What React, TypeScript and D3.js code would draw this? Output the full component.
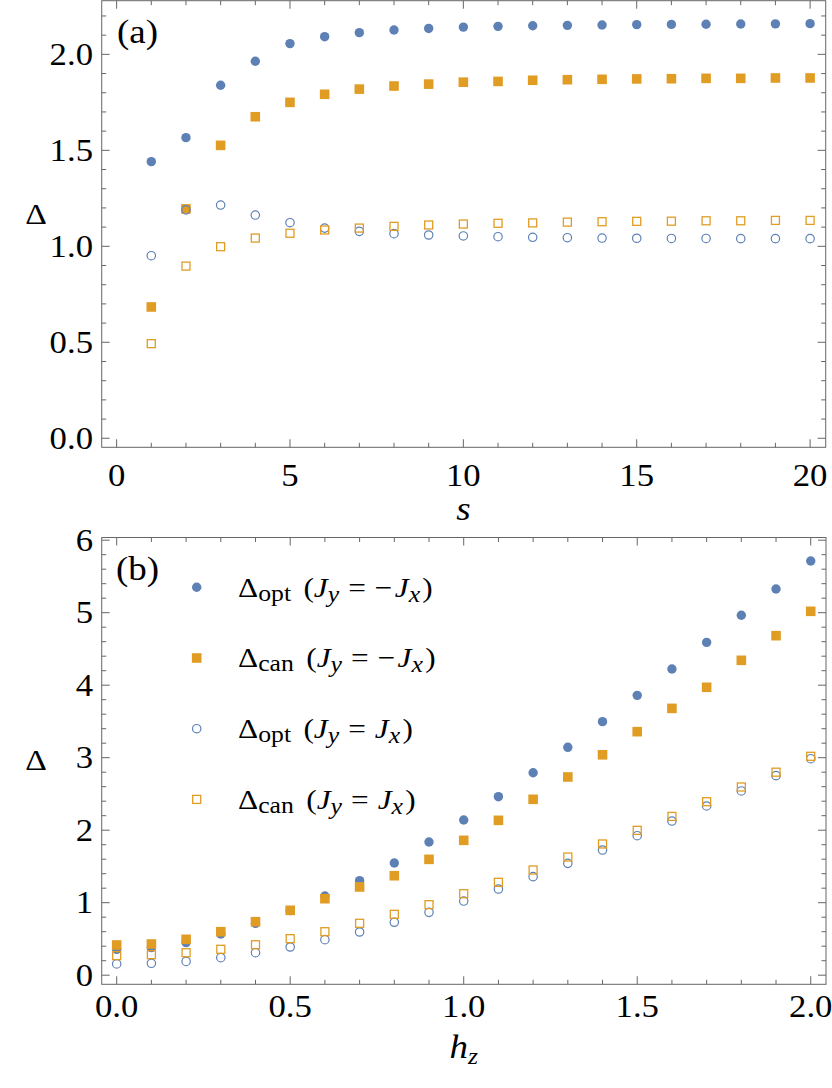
import React from 'react';
import * as d3 from 'd3';

// ---------- data: panel (a) ----------
const sValues = [1, 2, 3, 4, 5, 6, 7, 8, 9, 10, 11, 12, 13, 14, 15, 16, 17, 18, 19, 20];
const aOptAnti = [1.441, 1.566, 1.839, 1.964, 2.056, 2.092, 2.113, 2.127, 2.135, 2.142, 2.146, 2.149, 2.151, 2.153, 2.155, 2.156, 2.157, 2.158, 2.159, 2.160];
const aCanAnti = [0.684, 1.195, 1.526, 1.675, 1.750, 1.792, 1.819, 1.835, 1.845, 1.855, 1.859, 1.865, 1.868, 1.870, 1.872, 1.873, 1.875, 1.875, 1.877, 1.877];
const aOptSym = [0.951, 1.190, 1.215, 1.163, 1.123, 1.095, 1.078, 1.066, 1.059, 1.054, 1.050, 1.047, 1.045, 1.043, 1.042, 1.041, 1.041, 1.040, 1.040, 1.040];
const aCanSym = [0.493, 0.897, 0.998, 1.043, 1.068, 1.085, 1.095, 1.104, 1.111, 1.116, 1.120, 1.122, 1.126, 1.128, 1.130, 1.131, 1.133, 1.133, 1.135, 1.135];

// ---------- data: panel (b) ----------
const hValues = [0, 0.1, 0.2, 0.3, 0.4, 0.5, 0.6, 0.7, 0.8, 0.9, 1.0, 1.1, 1.2, 1.3, 1.4, 1.5, 1.6, 1.7, 1.8, 1.9, 2.0];
const bOptAnti = [0.357, 0.38, 0.45, 0.568, 0.715, 0.89, 1.092, 1.304, 1.548, 1.837, 2.14, 2.462, 2.793, 3.143, 3.497, 3.86, 4.223, 4.59, 4.964, 5.327, 5.713];
const bCanAnti = [0.417, 0.43, 0.495, 0.60, 0.738, 0.895, 1.055, 1.217, 1.372, 1.598, 1.86, 2.136, 2.426, 2.734, 3.04, 3.359, 3.68, 3.971, 4.343, 4.683, 5.019];
const bOptSym = [0.155, 0.164, 0.19, 0.242, 0.31, 0.389, 0.49, 0.596, 0.73, 0.867, 1.023, 1.189, 1.359, 1.543, 1.727, 1.924, 2.127, 2.334, 2.541, 2.752, 2.986];
const bCanSym = [0.27, 0.283, 0.31, 0.357, 0.42, 0.504, 0.60, 0.716, 0.84, 0.973, 1.124, 1.281, 1.451, 1.63, 1.81, 1.998, 2.19, 2.393, 2.596, 2.80, 3.019];

// ---------- tick labels ----------
const aXTickLabels = ['0', '5', '10', '15', '20'];
const aYTickLabels = ['0.0', '0.5', '1.0', '1.5', '2.0'];
const bXTickLabels = ['0.0', '0.5', '1.0', '1.5', '2.0'];
const bYTickLabels = ['0', '1', '2', '3', '4', '5', '6'];

const BLUE = '#5E81B5';
const ORANGE = '#E19C24';
const FRAME = '#666666';
const FONT = "'Liberation Serif', 'DejaVu Serif', serif";
const TXT: React.CSSProperties = { fontFamily: FONT };
const TICK_FS = 31;
const SX = 1.12;

type Kind = 'disk' | 'square' | 'circle' | 'osquare';

function Marker({ kind, cx, cy }: { kind: Kind; cx: number; cy: number }) {
  if (kind === 'disk') return <circle cx={cx} cy={cy} r={4.7} fill={BLUE} />;
  if (kind === 'square') return <rect x={cx - 4.8} y={cy - 4.8} width={9.6} height={9.6} fill={ORANGE} />;
  if (kind === 'circle') return <circle cx={cx} cy={cy} r={4.2} fill="none" stroke={BLUE} strokeWidth={1.2} />;
  return <rect x={cx - 4.0} y={cy - 4.0} width={8.0} height={8.0} fill="none" stroke={ORANGE} strokeWidth={1.3} />;
}

function Label({ x, y, anchor, fs, italic, children }: any) {
  return (
    <text
      transform={`translate(${x},${y}) scale(${SX},1)`}
      textAnchor={anchor || 'start'}
      style={TXT}
      fontSize={fs}
      fontStyle={italic ? 'italic' : 'normal'}
      fill="#000"
    >
      {children}
    </text>
  );
}

function Ticks({ x, y, xMajor, xMinor, yMajor, yMinor }: any) {
  const [x0, x1] = x.range();
  const [y0, y1] = y.range();
  const els: any[] = [];
  const MJ = 8, MN = 4.5;
  xMinor.forEach((v: number, i: number) => {
    const L = xMajor.some((m: number) => Math.abs(m - v) < 1e-9) ? MJ : MN;
    const px = x(v);
    els.push(<line key={'xb' + i} x1={px} x2={px} y1={y0} y2={y0 - L} stroke={FRAME} strokeWidth={1} />);
    els.push(<line key={'xt' + i} x1={px} x2={px} y1={y1} y2={y1 + L} stroke={FRAME} strokeWidth={1} />);
  });
  yMinor.forEach((v: number, i: number) => {
    const L = yMajor.some((m: number) => Math.abs(m - v) < 1e-9) ? MJ : MN;
    const py = y(v);
    els.push(<line key={'yl' + i} x1={x0} x2={x0 + L} y1={py} y2={py} stroke={FRAME} strokeWidth={1} />);
    els.push(<line key={'yr' + i} x1={x1} x2={x1 - L} y1={py} y2={py} stroke={FRAME} strokeWidth={1} />);
  });
  return (
    <g>
      {els}
      <rect x={x0} y={y1} width={x1 - x0} height={y0 - y1} fill="none" stroke={FRAME} strokeWidth={1} />
    </g>
  );
}

function LegendText({ x, y, sub, neg }: { x: number; y: number; sub: string; neg: boolean }) {
  return (
    <Label x={x} y={y} fs={28}>
      <tspan>Δ</tspan>
      <tspan fontSize={23} dy={4}>{sub}</tspan>
      <tspan dy={-4} dx={11}>(</tspan>
      <tspan fontStyle="italic">J</tspan>
      <tspan fontStyle="italic" fontSize={23} dy={5}>y</tspan>
      <tspan dy={-5} dx={8}>=</tspan>
      {neg ? <tspan dx={8}>−</tspan> : null}
      <tspan fontStyle="italic" dx={neg ? 2 : 8}>J</tspan>
      <tspan fontStyle="italic" fontSize={23} dy={5}>x</tspan>
      <tspan dy={-5} dx={2}>)</tspan>
    </Label>
  );
}

export default function App() {
  const xA = d3.scaleLinear().domain([-0.43, 20.45]).range([101.7, 825.7]);
  const yA = d3.scaleLinear().domain([-0.047, 2.2795]).range([447.3, 0.7]);
  const xB = d3.scaleLinear().domain([-0.0432, 2.044]).range([101.7, 826]);
  const yB = d3.scaleLinear().domain([-0.1255, 6.037]).range([984.3, 537.5]);

  const aXMajor = [0, 5, 10, 15, 20];
  const aXMinor = d3.range(0, 21, 1);
  const aYMajor = [0, 0.5, 1, 1.5, 2];
  const aYMinor = d3.range(0, 23).map((i) => i / 10);
  const bXMajor = [0, 0.5, 1, 1.5, 2];
  const bXMinor = d3.range(0, 21).map((i) => i / 10);
  const bYMajor = [0, 1, 2, 3, 4, 5, 6];
  const bYMinor = d3.range(0, 31).map((i) => i / 5);

  const seriesA: [number[], Kind][] = [
    [aOptAnti, 'disk'],
    [aCanAnti, 'square'],
    [aOptSym, 'circle'],
    [aCanSym, 'osquare'],
  ];
  const seriesB: [number[], Kind][] = [
    [bOptAnti, 'disk'],
    [bCanAnti, 'square'],
    [bOptSym, 'circle'],
    [bCanSym, 'osquare'],
  ];

  const legendRows: { kind: Kind; sub: string; neg: boolean }[] = [
    { kind: 'disk', sub: 'opt', neg: true },
    { kind: 'square', sub: 'can', neg: true },
    { kind: 'circle', sub: 'opt', neg: false },
    { kind: 'osquare', sub: 'can', neg: false },
  ];

  return (
    <div style={{ position: 'absolute', left: 0, top: 0 }}>
      <svg width={832} height={1088} style={{ display: 'block', background: '#fff' }}>
        {/* ---------- panel (a) ---------- */}
        <Ticks x={xA} y={yA} xMajor={aXMajor} xMinor={aXMinor} yMajor={aYMajor} yMinor={aYMinor} />
        {aXMajor.map((v, i) => (
          <Label key={'ax' + i} x={xA(v)} y={486} anchor="middle" fs={TICK_FS}>{aXTickLabels[i]}</Label>
        ))}
        {aYMajor.map((v, i) => (
          <Label key={'ay' + i} x={93} y={yA(v) + 10.5} anchor="end" fs={TICK_FS}>{aYTickLabels[i]}</Label>
        ))}
        <Label x={xA(10)} y={520} anchor="middle" fs={33} italic>s</Label>
        <Label x={36} y={224} anchor="middle" fs={30}>Δ</Label>
        <Label x={117} y={43} fs={33}>(a)</Label>
        {seriesA.map(([vals, kind], si) => (
          <g key={'sa' + si}>
            {vals.map((v, i) => (
              <Marker key={i} kind={kind} cx={xA(sValues[i])} cy={yA(v)} />
            ))}
          </g>
        ))}

        {/* ---------- panel (b) ---------- */}
        <Ticks x={xB} y={yB} xMajor={bXMajor} xMinor={bXMinor} yMajor={bYMajor} yMinor={bYMinor} />
        {bXMajor.map((v, i) => (
          <Label key={'bx' + i} x={xB(v)} y={1017} anchor="middle" fs={TICK_FS}>{bXTickLabels[i]}</Label>
        ))}
        {bYMajor.map((v, i) => (
          <Label key={'by' + i} x={93} y={yB(v) + 10.5} anchor="end" fs={TICK_FS}>{bYTickLabels[i]}</Label>
        ))}
        <Label x={xB(1)} y={1058} anchor="middle" fs={33} italic>
          h<tspan fontSize={23} dy={6}>z</tspan>
        </Label>
        <Label x={36} y={770} anchor="middle" fs={30}>Δ</Label>
        <Label x={116} y={580} fs={33}>(b)</Label>
        {seriesB.map(([vals, kind], si) => (
          <g key={'sb' + si}>
            {vals.map((v, i) => (
              <Marker key={i} kind={kind} cx={xB(hValues[i])} cy={yB(v)} />
            ))}
          </g>
        ))}

        {legendRows.map((r, i) => {
          const cy = 587.3 + i * 70.7;
          return (
            <g key={'lg' + i}>
              <Marker kind={r.kind} cx={196.7} cy={cy} />
              <LegendText x={238} y={cy + 9.4} sub={r.sub} neg={r.neg} />
            </g>
          );
        })}
      </svg>
    </div>
  );
}
